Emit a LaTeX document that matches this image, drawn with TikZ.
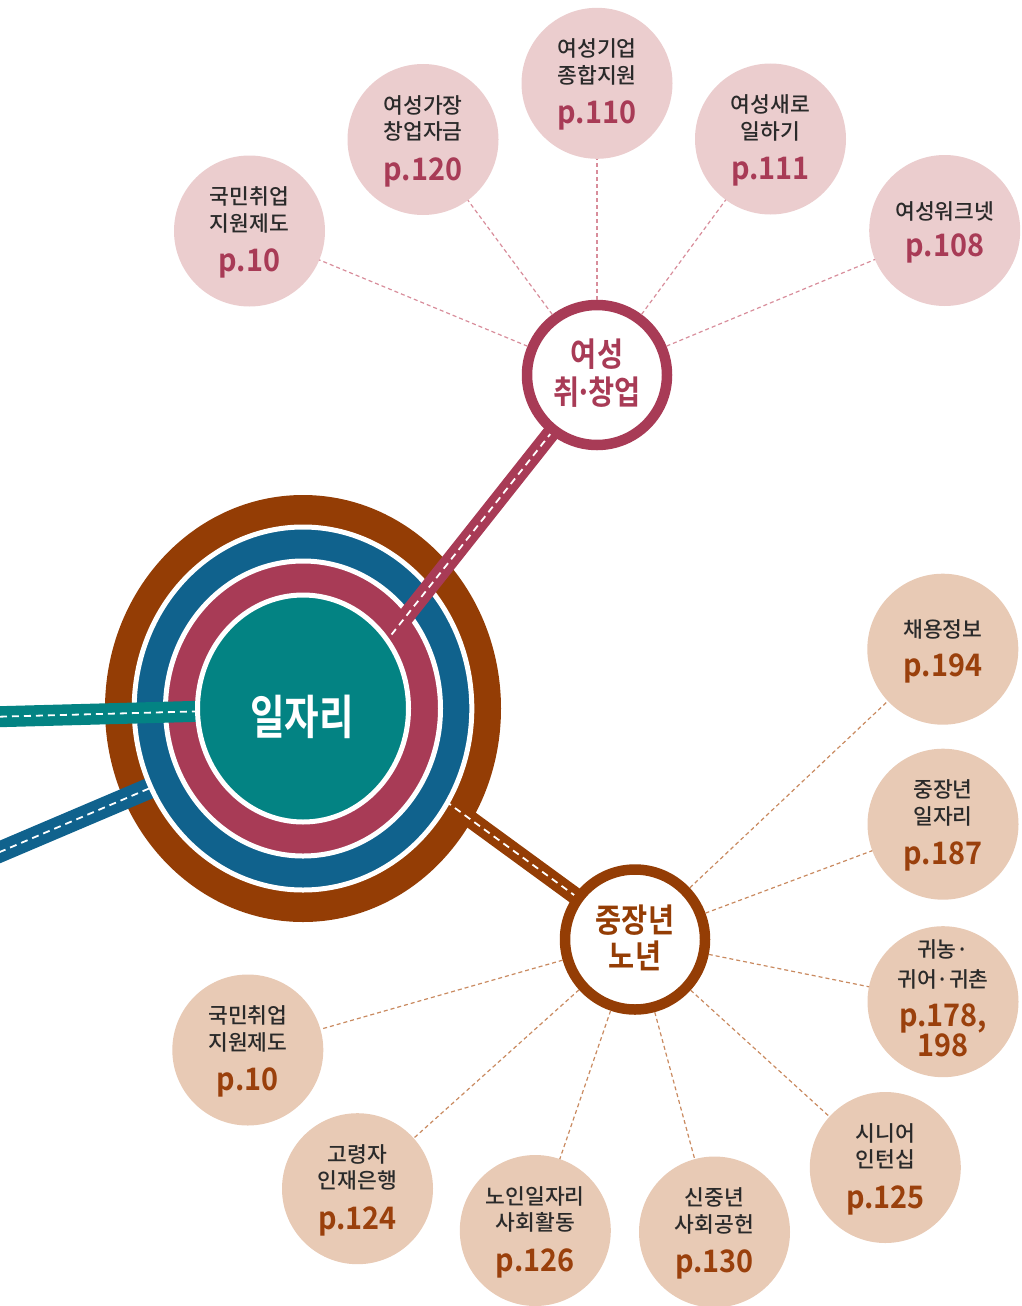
\documentclass[tikz,border=0pt]{standalone}
\usepackage{fontspec}
\newfontfamily\kr{Noto Sans CJK KR Medium}
\newfontfamily\krb[FakeStretch=0.93]{Noto Sans CJK KR Bold}
\newfontfamily\krhub[FakeStretch=0.86]{Noto Sans CJK KR Bold}
\newfontfamily\krbig[FakeStretch=0.8]{Noto Sans CJK KR Bold}
\definecolor{brownc}{HTML}{943D05}
\definecolor{bluec}{HTML}{10628D}
\definecolor{crim}{HTML}{A83B56}
\definecolor{tealc}{HTML}{038383}
\definecolor{pinkf}{HTML}{EBCDCE}
\definecolor{tanf}{HTML}{E8CAB5}
\definecolor{pinkline}{HTML}{D88D9B}
\definecolor{tanline}{HTML}{C98A60}
\definecolor{txtg}{HTML}{2A2A2A}
\definecolor{pgbrown}{HTML}{9A400C}
\newcommand\tl[5]{\node[#2] (#1) at ([yshift=#3pt]#4.center) {#5};}
\newcommand\tdot{\makebox[0.28em]{·}}
\begin{document}
\begin{tikzpicture}[x=1pt,y=-1pt,
  sat/.style={circle, minimum size=151pt, inner sep=0pt, outer sep=0pt},
  topsat/.style={sat, fill=pinkf},
  botsat/.style={sat, fill=tanf},
  ringnode/.style={circle, minimum size=140pt, inner sep=0pt, line width=10.5pt, fill=white},
  kl/.style={anchor=base, inner sep=0pt, font=\kr\fontsize{21.5}{24}\selectfont, text=txtg},
  pgt/.style={anchor=base, inner sep=0pt, font=\krb\fontsize{31}{34}\selectfont, text=crim},
  pgb/.style={anchor=base, inner sep=0pt, font=\krb\fontsize{31}{34}\selectfont, text=pgbrown},
  hubt/.style={anchor=base, inner sep=0pt, font=\krhub\fontsize{33}{36}\selectfont},
  connt/.style={draw=pinkline, line width=1.2pt, dash pattern=on 4pt off 3pt},
  connb/.style={draw=tanline, line width=1.2pt, dash pattern=on 4pt off 3pt},
  roaddash/.style={draw=white, line width=1.8pt, dash pattern=on 7pt off 5pt},
  ringsep/.style={draw=white, line width=5pt}
]
\useasboundingbox (0,0) rectangle (1021,1306);

\coordinate (hubc) at (303,708.5);
\coordinate (w1c) at (597,375);
\coordinate (m1c) at (635,939.5);
\coordinate (crimIn) at (333,708.5);
\coordinate (brownIn) at (303,697);
\coordinate (blueIn) at (303,723);
\coordinate (blueEnd) at (-12,857);
\coordinate (tealEnd) at (-12,717);

% outer brown ring
\fill[brownc] (hubc) ellipse [x radius=198pt, y radius=213.5pt];
% brown road
\draw[brownc, line width=17pt] (m1c) -- (brownIn);
\draw[roaddash] (m1c) -- (brownIn);
% blue road
\draw[bluec, line width=21pt] (blueEnd) -- (blueIn);
\draw[roaddash] (blueEnd) -- (blueIn);
% blue ring
\filldraw[fill=bluec, ringsep] (hubc) ellipse [x radius=168.8pt, y radius=181.5pt];
% crimson ring
\filldraw[fill=crim, ringsep] (hubc) ellipse [x radius=137.5pt, y radius=147.5pt];
% crimson road
\draw[crim, line width=17pt] (w1c) -- (crimIn);
\draw[roaddash] (w1c) -- (crimIn);
% teal road
\draw[tealc, line width=21pt] (tealEnd) -- (hubc);
\draw[roaddash] (tealEnd) -- (hubc);
% teal core
\filldraw[fill=tealc, ringsep] (hubc) ellipse [x radius=105.5pt, y radius=113.5pt];
\node[anchor=base, inner sep=0pt, text=white, font=\krbig\fontsize{47}{50}\selectfont] (hub) at (302,734) {일자리};

% sub hubs
\node[ringnode, draw=crim] (w1) at (w1c) {};
\node[ringnode, draw=brownc] (m1) at (m1c) {};
\tl{w1a}{hubt, text=crim}{9}{w1}{여성}
\tl{w1b}{hubt, text=crim}{-29}{w1}{취\tdot 창업}
\tl{m1a}{hubt, text=brownc}{7.5}{m1}{중장년}
\tl{m1b}{hubt, text=brownc}{-28.5}{m1}{노년}

% top satellites
\node[topsat] (s1) at (249.5,231) {};
\node[topsat] (s2) at (423,139.5) {};
\node[topsat] (s3) at (597,83.3) {};
\node[topsat] (s4) at (770.5,139) {};
\node[topsat] (s5) at (944.7,230.5) {};
\foreach \s in {s1,s2,s3,s4,s5} \draw[connt] (w1) -- (\s);

\tl{s1a}{kl}{26.5}{s1}{국민취업}
\tl{s1b}{kl}{0}{s1}{지원제도}
\tl{s1p}{pgt}{-40.5}{s1}{p.10}
\tl{s2a}{kl}{26.5}{s2}{여성가장}
\tl{s2b}{kl}{0}{s2}{창업자금}
\tl{s2p}{pgt}{-40.5}{s2}{p.120}
\tl{s3a}{kl}{26.5}{s3}{여성기업}
\tl{s3b}{kl}{0}{s3}{종합지원}
\tl{s3p}{pgt}{-40.5}{s3}{p.110}
\tl{s4a}{kl}{26.5}{s4}{여성새로}
\tl{s4b}{kl}{0}{s4}{일하기}
\tl{s4p}{pgt}{-40.5}{s4}{p.111}
\tl{s5a}{kl}{11.5}{s5}{여성워크넷}
\tl{s5p}{pgt}{-26}{s5}{p.108}

% bottom satellites
\node[botsat] (b1) at (942.8,649.2) {};
\node[botsat] (b2) at (943,824.2) {};
\node[botsat] (b3) at (943,1001.7) {};
\node[botsat] (b4) at (885.3,1167.5) {};
\node[botsat] (b5) at (714.5,1232) {};
\node[botsat] (b6) at (535.3,1230.5) {};
\node[botsat] (b7) at (357.5,1188.7) {};
\node[botsat] (b8) at (247.8,1050) {};
\foreach \s in {b1,b2,b3,b4,b5,b6,b7,b8} \draw[connb] (m1) -- (\s);

\tl{b1a}{kl}{12}{b1}{채용정보}
\tl{b1p}{pgb}{-27}{b1}{p.194}
\tl{b2a}{kl}{26.5}{b2}{중장년}
\tl{b2b}{kl}{0}{b2}{일자리}
\tl{b2p}{pgb}{-40.5}{b2}{p.187}
\tl{b3a}{kl}{44.7}{b3}{귀농·}
\tl{b3b}{kl}{14.7}{b3}{귀어·귀촌}
\tl{b3p}{pgb}{-25}{b3}{p.178,}
\tl{b3q}{pgb}{-55}{b3}{198}
\tl{b4a}{kl}{26.5}{b4}{시니어}
\tl{b4b}{kl}{0}{b4}{인턴십}
\tl{b4p}{pgb}{-40.5}{b4}{p.125}
\tl{b5a}{kl}{26.5}{b5}{신중년}
\tl{b5b}{kl}{0}{b5}{사회공헌}
\tl{b5p}{pgb}{-40.5}{b5}{p.130}
\tl{b6a}{kl}{26.5}{b6}{노인일자리}
\tl{b6b}{kl}{0}{b6}{사회활동}
\tl{b6p}{pgb}{-40.5}{b6}{p.126}
\tl{b7a}{kl}{26.5}{b7}{고령자}
\tl{b7b}{kl}{0}{b7}{인재은행}
\tl{b7p}{pgb}{-40.5}{b7}{p.124}
\tl{b8a}{kl}{26.5}{b8}{국민취업}
\tl{b8b}{kl}{0}{b8}{지원제도}
\tl{b8p}{pgb}{-40.5}{b8}{p.10}
\end{tikzpicture}
\end{document}
